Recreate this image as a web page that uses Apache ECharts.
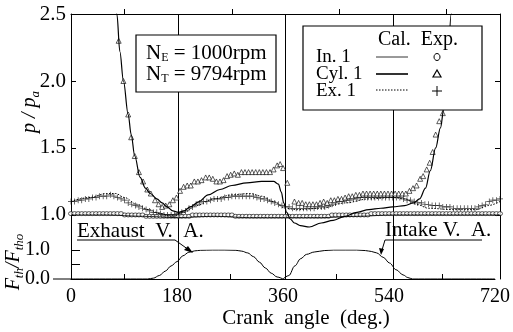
<!DOCTYPE html>
<html>
<head>
<meta charset="utf-8">
<script src="https://cdn.jsdelivr.net/npm/echarts@6/dist/echarts.min.js"></script>
<style>
html,body{margin:0;padding:0;background:#fff;}
#chart{width:513px;height:332px;}
</style>
</head>
<body>
<div id="chart"></div>
<script>
// crank angle grid used by the two densest experimental series (deg)
var angle6 = [0,6,12,18,24,30,36,42,48,54,
    60,66,72,78,84,90,96,102,108,114,
    120,126,132,138,144,150,156,162,168,174,
    180,186,192,198,204,210,216,222,228,234,
    240,246,252,258,264,270,276,282,288,294,
    300,306,312,318,324,330,336,342,348,354,
    360,366,372,378,384,390,396,402,408,414,
    420,426,432,438,444,450,456,462,468,474,
    480,486,492,498,504,510,516,522,528,534,
    540,546,552,558,564,570,576,582,588,594,
    600,606,612,618,624,630,636,642,648,654,
    660,666,672,678,684,690,696,702,708,714,
    720];

// In.1 exp (circles)
var inExpP = [1.01,1.01,1.01,1.01,1.01,1.01,1.01,1.01,1.01,1.01,
    1.01,1.01,1.01,1.01,1.01,1.00,1.00,1.00,1.00,1.00,
    1.00,0.99,0.99,0.99,0.99,0.99,0.99,0.99,0.99,0.99,
    0.99,0.99,0.99,0.99,1.00,1.00,1.00,1.00,1.00,1.00,
    1.00,1.00,1.00,1.00,1.00,1.00,0.99,0.99,0.99,0.99,
    0.99,0.99,0.99,0.99,0.99,0.99,0.99,0.99,0.99,0.99,
    0.99,0.99,0.99,0.99,0.99,0.99,0.99,0.99,0.99,0.99,
    0.99,0.99,0.99,1.00,1.00,1.00,1.00,1.00,1.00,1.00,
    1.00,1.00,1.00,1.00,1.01,1.01,1.01,1.01,1.01,1.01,
    1.01,1.01,1.01,1.01,1.01,1.01,1.01,1.01,1.01,1.01,
    1.01,1.01,1.01,1.01,1.01,1.01,1.01,1.01,1.01,1.01,
    1.01,1.01,1.01,1.01,1.01,1.01,1.01,1.01,1.01,1.01,
    1.01];

// Ex.1 exp (crosses)
var exExpP = [1.10,1.10,1.11,1.11,1.12,1.12,1.13,1.13,1.14,1.14,
    1.14,1.15,1.14,1.13,1.12,1.11,1.09,1.08,1.07,1.06,
    1.05,1.04,1.03,1.02,1.02,1.01,1.00,1.00,1.00,1.00,
    1.01,1.02,1.03,1.05,1.06,1.08,1.09,1.10,1.10,1.11,
    1.12,1.12,1.12,1.13,1.13,1.14,1.14,1.14,1.14,1.14,
    1.14,1.14,1.13,1.12,1.12,1.11,1.10,1.09,1.08,1.07,
    1.06,1.06,1.05,1.05,1.05,1.05,1.05,1.05,1.05,1.06,
    1.06,1.06,1.07,1.08,1.09,1.10,1.10,1.11,1.11,1.12,
    1.12,1.13,1.13,1.13,1.13,1.13,1.13,1.13,1.13,1.13,
    1.13,1.13,1.13,1.12,1.11,1.11,1.10,1.09,1.09,1.08,
    1.08,1.07,1.07,1.07,1.06,1.06,1.06,1.05,1.05,1.05,
    1.05,1.05,1.05,1.05,1.06,1.07,1.08,1.10,1.11,1.11,
    1.12];

// Cyl.1 exp (triangles)
var cylExpAngle = [80,88,96,101,107,114,121,128,134,141,147,153,159,165,171,177,
    183,189,195,201,207,213,219,226,232,238,244,250,256,262,268,274,280,286,292,298,
    304,310,316,322,328,334,340,346,351,356,363,
    375,382,388,394,400,406,412,418,424,430,436,442,448,454,460,466,472,478,484,490,
    496,502,508,514,520,526,532,538,544,550,556,562,568,574,580,586,591,597,602,607,
    612,618,624];
var cylExpP = [2.30,2.00,1.75,1.58,1.44,1.32,1.25,1.19,1.16,1.11,1.08,1.06,1.07,1.08,1.11,1.13,
    1.18,1.21,1.22,1.22,1.25,1.25,1.26,1.28,1.28,1.27,1.25,1.25,1.26,1.29,1.30,1.31,1.30,1.32,1.32,1.32,
    1.32,1.32,1.32,1.32,1.32,1.32,1.34,1.37,1.38,1.35,1.24,
    1.10,1.09,1.09,1.08,1.08,1.08,1.08,1.09,1.10,1.09,1.11,1.11,1.12,1.12,1.13,1.14,1.14,1.15,1.15,1.16,
    1.16,1.16,1.16,1.16,1.16,1.16,1.16,1.16,1.16,1.16,1.16,1.16,1.18,1.20,1.22,1.27,1.29,1.34,1.39,1.47,
    1.60,1.70,1.76];

// calculated curves
var cylCalAngle = [60,70,77,82,88,96,101,107,116,125,133,144,153,161,171,180,190,200,215,230,
    250,270,295,320,340,348,353,357,362,368,375,385,400,420,440,460,480,500,520,540,
    560,575,585,595,603,612,620,626,632,638,645];
var cylCalP = [3.50,2.90,2.50,2.22,2.00,1.75,1.60,1.44,1.28,1.20,1.16,1.12,1.09,1.06,1.03,1.02,1.03,1.06,1.10,1.15,
    1.19,1.22,1.24,1.25,1.25,1.23,1.17,1.09,1.02,0.97,0.94,0.92,0.91,0.94,0.96,0.99,1.02,1.04,1.05,1.06,
    1.07,1.09,1.12,1.20,1.33,1.50,1.65,1.80,2.10,2.50,3.00];

var inCalAngle = [0,60,120,180,240,300,360,420,480,540,600,660,720];
var inCalP = [1.00,1.00,0.99,0.98,0.99,0.98,0.98,0.98,0.99,1.00,1.00,1.00,1.00];

var exCalAngle = [0,30,60,75,90,110,130,150,170,190,210,240,270,300,320,340,360,380,420,460,
    500,540,560,580,600,640,680,700,720];
var exCalP = [1.10,1.13,1.16,1.16,1.13,1.08,1.04,1.01,0.99,1.02,1.07,1.12,1.15,1.16,1.14,1.10,1.05,1.04,1.05,1.09,
    1.12,1.13,1.12,1.08,1.05,1.04,1.04,1.07,1.10];

// valve opening area ratio
var exhVaAngle = [0,130,140,150,160,170,180,190,200,210,220,240,260,280,290,300,310,320,330,340,350,360];
var exhVaArea = [0,0,0.03,0.12,0.27,0.45,0.60,0.80,0.92,0.97,0.99,1.0,1.0,0.99,0.96,0.90,0.77,0.58,0.38,0.20,0.07,0];
var intVaAngle = [360,370,380,390,400,413,430,446,485,500,510,519,530,541,552,564,572,580,720];
var intVaArea = [0,0.12,0.45,0.70,0.85,0.93,0.98,1.0,1.0,0.98,0.95,0.90,0.75,0.55,0.32,0.14,0.05,0,0];

var xTicks = [0,180,360,540,720];

function pairs(xs, ys){
    return xs.map(function(x, i){ return [x, ys[i]]; });
}

var FONT = '"Liberation Serif", "DejaVu Serif", serif';
var chart = echarts.init(document.getElementById('chart'));

var lineBase = {type: 'line', showSymbol: false, smooth: 0.35, smoothMonotone: 'x', clip: true, silent: true};
var subRich = {
    i: {fontSize: 20, fontStyle: 'italic', fontFamily: FONT, lineHeight: 24},
    s: {fontSize: 13, fontStyle: 'italic', fontFamily: FONT, lineHeight: 15, verticalAlign: 'bottom'}
};
var nRich = {s: {fontSize: 12, fontFamily: FONT, verticalAlign: 'bottom', lineHeight: 16}};

function txt(x, y, text, size, align, lh){
    return {type: 'text', z: 101, x: x, y: y,
        style: {text: text, align: align || 'left', verticalAlign: 'middle', fill: '#000',
            fontSize: size, fontFamily: FONT, lineHeight: lh || size}};
}

var option = {
    animation: false,
    backgroundColor: '#fff',
    textStyle: {fontFamily: FONT, color: '#000'},
    grid: [
        {left: 71, right: 13, top: 14, bottom: 53},
        {left: 71, right: 13, top: 250, bottom: 53}
    ],
    xAxis: [
        {
            gridIndex: 0, type: 'value', position: 'top', min: 0, max: 720, interval: 180,
            axisLine: {show: true, lineStyle: {color: '#000', width: 1}},
            axisTick: {show: false},
            minorTick: {show: true, splitNumber: 2, length: 5, lineStyle: {color: '#000'}},
            axisLabel: {show: false},
            splitLine: {show: true, lineStyle: {color: '#000', width: 1}}
        },
        {
            gridIndex: 1, type: 'value', position: 'bottom', min: 0, max: 720, interval: 180,
            axisLine: {show: true, lineStyle: {color: '#000', width: 1}},
            axisTick: {show: true, inside: true, length: 0},
            minorTick: {show: true, splitNumber: 2, length: 5, lineStyle: {color: '#000'}},
            axisLabel: {show: true, margin: 8, fontSize: 20, fontFamily: FONT, color: '#000',
                customValues: xTicks},
            splitLine: {show: false}
        }
    ],
    yAxis: [
        {
            gridIndex: 0, type: 'value', position: 'left', min: 0.522, max: 2.5,
            axisLine: {show: true, lineStyle: {color: '#000', width: 1}},
            axisTick: {show: true, inside: true, length: 5, lineStyle: {color: '#000'},
                customValues: [1.0, 1.5, 2.0, 2.5]},
            axisLabel: {show: true, margin: 5, fontSize: 21, fontFamily: FONT, color: '#000',
                customValues: [1.0, 1.5, 2.0, 2.5],
                formatter: function(v){ return v.toFixed(1); }},
            splitLine: {show: false}
        },
        {
            gridIndex: 0, type: 'value', position: 'right', min: 0.522, max: 2.5,
            axisLine: {show: true, lineStyle: {color: '#000', width: 1}},
            axisTick: {show: true, inside: true, length: 5, lineStyle: {color: '#000'},
                customValues: [1.0, 1.5, 2.0]},
            axisLabel: {show: false},
            splitLine: {show: false}
        },
        {
            gridIndex: 1, type: 'value', position: 'left', offset: 18, min: 0, max: 1, interval: 0.5,
            axisLine: {show: true, lineStyle: {color: '#000', width: 1}},
            axisTick: {show: true, inside: true, length: 9, lineStyle: {color: '#000'}},
            axisLabel: {show: true, margin: 3, fontSize: 20, fontFamily: FONT, color: '#000',
                formatter: function(v){ return v === 0.5 ? '' : v.toFixed(1); }},
            splitLine: {show: false}
        }
    ],
    series: [
        Object.assign({}, lineBase, {
            name: 'In. 1 Cal.', xAxisIndex: 0, yAxisIndex: 0,
            data: pairs(inCalAngle, inCalP),
            lineStyle: {color: '#000', width: 0.8}
        }),
        Object.assign({}, lineBase, {
            name: 'Ex. 1 Cal.', xAxisIndex: 0, yAxisIndex: 0,
            data: pairs(exCalAngle, exCalP),
            lineStyle: {color: '#000', width: 1, type: [1.5, 1.5]}
        }),
        Object.assign({}, lineBase, {
            name: 'Cyl. 1 Cal.', xAxisIndex: 0, yAxisIndex: 0,
            data: pairs(cylCalAngle, cylCalP),
            lineStyle: {color: '#000', width: 1.2}
        }),
        {
            name: 'In. 1 Exp.', type: 'scatter', xAxisIndex: 0, yAxisIndex: 0, silent: true,
            symbol: 'circle', symbolSize: [5, 4],
            itemStyle: {color: '#fff', borderColor: '#000', borderWidth: 0.8},
            data: pairs(angle6, inExpP)
        },
        {
            name: 'Ex. 1 Exp.', type: 'scatter', xAxisIndex: 0, yAxisIndex: 0, silent: true,
            symbol: 'path://M4.4,0H5.6V4.4H10V5.6H5.6V10H4.4V5.6H0V4.4H4.4Z', symbolSize: 6,
            itemStyle: {color: '#000', borderWidth: 0},
            data: pairs(angle6, exExpP)
        },
        {
            name: 'Cyl. 1 Exp.', type: 'scatter', xAxisIndex: 0, yAxisIndex: 0, silent: true,
            symbol: 'triangle', symbolSize: 5,
            itemStyle: {color: '#fff', borderColor: '#000', borderWidth: 0.8},
            data: pairs(cylExpAngle, cylExpP)
        },
        Object.assign({}, lineBase, {
            name: 'Exhaust V. A.', xAxisIndex: 1, yAxisIndex: 2,
            data: pairs(exhVaAngle, exhVaArea),
            lineStyle: {color: '#000', width: 1}
        }),
        Object.assign({}, lineBase, {
            name: 'Intake V. A.', xAxisIndex: 1, yAxisIndex: 2,
            data: pairs(intVaAngle, intVaArea),
            lineStyle: {color: '#000', width: 1}
        })
    ],
    graphic: [
        // bottom piece of the F bracket
        {type: 'line', z: 100, shape: {x1: 53, y1: 279, x2: 71, y2: 279}, style: {stroke: '#000', lineWidth: 1}},
        // axis names
        {type: 'text', z: 100, x: 30, y: 112, rotation: Math.PI / 2,
            style: {text: '{i|p} / {i|p}{s|a}', align: 'center', verticalAlign: 'middle', fill: '#000',
                fontSize: 20, fontStyle: 'italic', fontFamily: FONT, rich: subRich}},
        {type: 'text', z: 100, x: 14, y: 262, rotation: Math.PI / 2,
            style: {text: '{i|F}{s|th}{i|/}{i|F}{s|tho}', align: 'center', verticalAlign: 'middle', fill: '#000',
                fontSize: 20, fontStyle: 'italic', fontFamily: FONT, rich: subRich}},
        txt(306, 318, 'Crank  angle  (deg.)', 21, 'center'),
        // engine speed box
        {type: 'rect', z: 100, shape: {x: 136, y: 35, width: 140, height: 57},
            style: {fill: '#fff', stroke: '#000', lineWidth: 1.2}},
        {type: 'text', z: 101, x: 146, y: 53,
            style: {text: 'N{s|E} = 1000rpm', align: 'left', verticalAlign: 'middle', fill: '#000',
                fontSize: 21, fontFamily: FONT, rich: nRich}},
        {type: 'text', z: 101, x: 146, y: 74,
            style: {text: 'N{s|T} = 9794rpm', align: 'left', verticalAlign: 'middle', fill: '#000',
                fontSize: 21, fontFamily: FONT, rich: nRich}},
        // legend box
        {type: 'rect', z: 100, shape: {x: 303, y: 26, width: 179, height: 84},
            style: {fill: '#fff', stroke: '#000', lineWidth: 1.2}},
        txt(378, 40, 'Cal.  Exp.', 20, 'left', 16),
        txt(316, 57, 'In. 1', 19, 'left', 16),
        txt(316, 74, 'Cyl. 1', 19, 'left', 16),
        txt(316, 91, 'Ex. 1', 19, 'left', 16),
        {type: 'line', z: 101, shape: {x1: 376, y1: 57, x2: 408, y2: 57}, style: {stroke: '#000', lineWidth: 0.8}},
        {type: 'line', z: 101, shape: {x1: 376, y1: 74, x2: 408, y2: 74}, style: {stroke: '#000', lineWidth: 1.6}},
        {type: 'line', z: 101, shape: {x1: 376, y1: 90, x2: 408, y2: 90}, style: {stroke: '#000', lineWidth: 1, lineDash: [1.5, 1.5]}},
        {type: 'ellipse', z: 101, shape: {cx: 437, cy: 57, rx: 3, ry: 3.5}, style: {fill: '#fff', stroke: '#000', lineWidth: 1}},
        {type: 'polygon', z: 101, shape: {points: [[437, 70], [433, 77], [441, 77]]}, style: {fill: '#fff', stroke: '#000', lineWidth: 1.2}},
        {type: 'line', z: 101, shape: {x1: 432, y1: 91, x2: 442, y2: 91}, style: {stroke: '#000', lineWidth: 1}},
        {type: 'line', z: 101, shape: {x1: 437, y1: 86, x2: 437, y2: 96}, style: {stroke: '#000', lineWidth: 1}},
        // valve area annotations
        txt(77, 231, 'Exhaust  V.  A.', 21),
        {type: 'polyline', z: 100, shape: {points: [[77, 240], [175, 240], [189, 250]]},
            style: {stroke: '#000', lineWidth: 1, fill: null}},
        {type: 'polygon', z: 100, shape: {points: [[193, 253], [184, 250], [188, 246]]}, style: {fill: '#000'}},
        txt(385, 230, 'Intake V.  A.', 21),
        {type: 'polyline', z: 100, shape: {points: [[482, 240], [385, 240], [382, 250]]},
            style: {stroke: '#000', lineWidth: 1, fill: null}},
        {type: 'polygon', z: 100, shape: {points: [[381, 255], [379, 248], [384, 249]]}, style: {fill: '#000'}}
    ]
};

chart.setOption(option);
</script>
</body>
</html>
